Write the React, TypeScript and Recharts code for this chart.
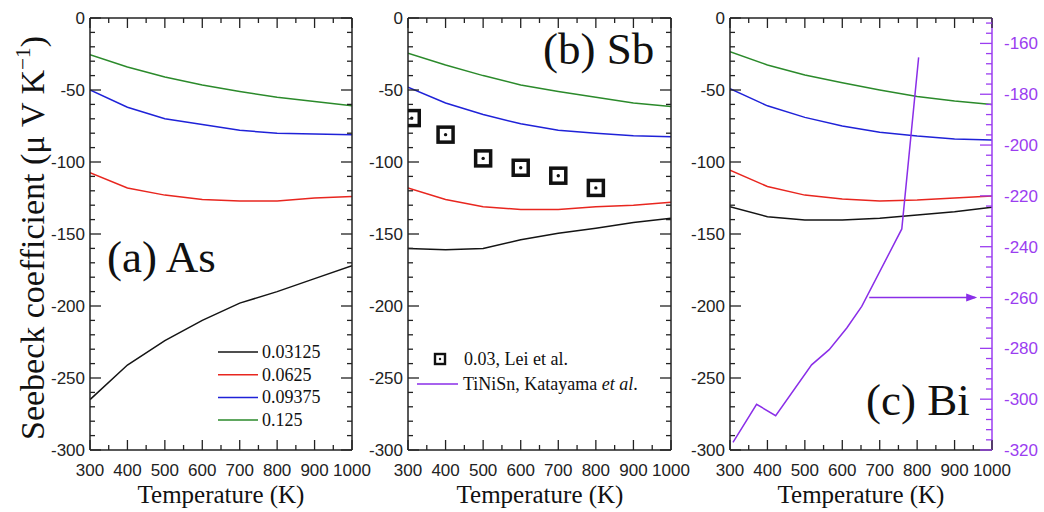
import React from 'react';
import { ComposedChart, Line, XAxis, YAxis } from 'recharts';

// temperatures for the calculated curves (K)
const temps = [300, 400, 500, 600, 700, 800, 900, 1000];
const concentrations = ['0.03125', '0.0625', '0.09375', '0.125'];
const lineColors = ['#141414', '#e8261f', '#1f22d8', '#2b8a2b'];

// (a) As
const as03125 = [-265, -241, -224, -210, -198, -190, -181, -172];
const as0625 = [-107.5, -118, -123, -126, -127, -127, -125, -124];
const as09375 = [-50, -62, -70, -74, -78, -80, -80.5, -81];
const as125 = [-25.5, -34, -41, -46.5, -51, -55, -58, -61];

// (b) Sb
const sb03125 = [-160, -161, -160, -154, -149.5, -146, -142, -139];
const sb0625 = [-118, -126, -131, -133, -133, -131, -130, -128];
const sb09375 = [-48, -59, -67, -73.5, -78, -80, -81.7, -82.5];
const sb125 = [-24.5, -32.6, -40, -46.5, -51, -55, -59, -61.5];

// (c) Bi
const bi03125 = [-131, -138, -140.3, -140.3, -139, -136.8, -134.5, -131.5];
const bi0625 = [-105.6, -117, -123, -125.7, -127, -126.4, -125, -123.6];
const bi09375 = [-49, -61, -69, -75, -79.4, -82, -84, -84.7];
const bi125 = [-23.4, -32.6, -39.6, -45, -50, -54.5, -57.6, -60];

// experiment, Lei et al. (x = 0.03)
const leiT = [310, 400, 500, 600, 700, 800];
const leiS = [-69.5, -81, -97.5, -104, -109.5, -118];

// TiNiSn, Katayama et al. (right axis)
const tinisnT = [308, 371, 422, 518, 565, 612, 652, 759, 804];
const tinisnS = [-317, -302, -306.5, -286.5, -280.5, -272, -263.5, -233, -165.5];

// arrow pointing to the right axis
const arrowT = [672, 955];
const arrowS = [-260, -260];

const xTicks = [300, 350, 400, 450, 500, 550, 600, 650, 700, 750, 800, 850, 900, 950, 1000];
const yTicks = Array.from({ length: 31 }, (_, i) => -300 + i * 10);
const rightTicks = Array.from({ length: 43 }, (_, i) => -320 + i * 4);

const AXIS = '#222';
const PURPLE_AXIS = '#9b3df0';
const PURPLE_LINE = '#8a2ee8';
const SANS = '"Liberation Sans", Arial, sans-serif';
const SERIF = '"Liberation Serif", "Times New Roman", Times, serif';
const serifStyle = { fontFamily: SERIF };

const makeRows = (cols: number[][]) =>
  temps.map((T, i) => ({ T, s0: cols[0][i], s1: cols[1][i], s2: cols[2][i], s3: cols[3][i] }));

const asRows = makeRows([as03125, as0625, as09375, as125]);
const sbRows = makeRows([sb03125, sb0625, sb09375, sb125]);
const biRows = makeRows([bi03125, bi0625, bi09375, bi125]);
const leiRows = leiT.map((T, i) => ({ T, v: leiS[i] }));
const tinisnRows = tinisnT.map((T, i) => ({ T, v: tinisnS[i] }));
const arrowRows = arrowT.map((T, i) => ({ T, v: arrowS[i] }));

const BottomTick = (p: any) => {
  const major = p.payload.value % 100 === 0;
  return (
    <g>
      <line x1={p.x} x2={p.x} y1={p.y} y2={p.y - (major ? 10 : 5)} stroke={AXIS} strokeWidth={1.3} />
      {major && (
        <text x={p.x} y={p.y + 26} textAnchor="middle" fontSize={17} style={{ fontFamily: SANS }} fill="#222">
          {p.payload.value}
        </text>
      )}
    </g>
  );
};

const TopTick = (p: any) => {
  const major = p.payload.value % 100 === 0;
  return <line x1={p.x} x2={p.x} y1={p.y} y2={p.y + (major ? 10 : 5)} stroke={AXIS} strokeWidth={1.3} />;
};

const LeftTick = (p: any) => {
  const major = p.payload.value % 50 === 0;
  return (
    <g>
      <line x1={p.x} x2={p.x + (major ? 11 : 5)} y1={p.y} y2={p.y} stroke={AXIS} strokeWidth={1.3} />
      {major && (
        <text x={p.x - 5} y={p.y + 6} textAnchor="end" fontSize={17} style={{ fontFamily: SANS }} fill="#222">
          {p.payload.value}
        </text>
      )}
    </g>
  );
};

const RightTick = (p: any) => {
  const major = p.payload.value % 50 === 0;
  return <line x1={p.x} x2={p.x - (major ? 11 : 5)} y1={p.y} y2={p.y} stroke={AXIS} strokeWidth={1.3} />;
};

const PurpleTick = (p: any) => {
  const major = p.payload.value % 20 === 0;
  return (
    <g>
      <line x1={p.x} x2={p.x - (major ? 12 : 6)} y1={p.y} y2={p.y} stroke={PURPLE_AXIS} strokeWidth={1.3} />
      {major && (
        <text x={p.x + 12} y={p.y + 6} textAnchor="start" fontSize={17} style={{ fontFamily: SANS }} fill={PURPLE_AXIS}>
          {p.payload.value}
        </text>
      )}
    </g>
  );
};

const SquareDot = (p: any) => (
  <g key={`sq-${p.index}`}>
    <rect x={p.cx - 7.5} y={p.cy - 7.5} width={15} height={15} fill="none" stroke="#111" strokeWidth={3.5} />
    <circle cx={p.cx} cy={p.cy} r={1.7} fill="#111" />
  </g>
);

const ArrowHead = (p: any) =>
  p.index === arrowT.length - 1 ? (
    <path key="head" d={`M${p.cx + 2} ${p.cy} l-11 -4 l0 8 z`} fill={PURPLE_LINE} />
  ) : (
    <g key={`a-${p.index}`} />
  );

interface PanelProps {
  left: number;
  width: number;
  ml: number;
  mr: number;
  rows: any[];
  purple?: boolean;
  lei?: boolean;
}

const Panel = ({ left, width, ml, mr, rows, purple, lei }: PanelProps) => (
  <div style={{ position: 'absolute', left, top: 0 }}>
    <ComposedChart width={width} height={512} margin={{ top: 17, bottom: 61, left: ml - 1, right: mr - 1 }}>
      <XAxis
        dataKey="T"
        type="number"
        domain={[300, 1000]}
        allowDataOverflow
        ticks={xTicks}
        interval={0}
        height={1}
        tickSize={0}
        tickMargin={0}
        tickLine={false}
        tick={BottomTick}
        axisLine={{ stroke: AXIS, strokeWidth: 1.5 }}
      />
      <XAxis
        xAxisId="top"
        orientation="top"
        dataKey="T"
        type="number"
        domain={[300, 1000]}
        allowDataOverflow
        ticks={xTicks}
        interval={0}
        height={1}
        tickSize={0}
        tickMargin={0}
        tickLine={false}
        tick={TopTick}
        axisLine={{ stroke: AXIS, strokeWidth: 1.5 }}
      />
      <YAxis
        type="number"
        domain={[-300, 0]}
        allowDataOverflow
        ticks={yTicks}
        interval={0}
        width={1}
        tickSize={0}
        tickMargin={0}
        tickLine={false}
        tick={LeftTick}
        axisLine={{ stroke: AXIS, strokeWidth: 1.5 }}
      />
      {purple ? (
        <YAxis
          yAxisId="right"
          orientation="right"
          type="number"
          domain={[-320, -150]}
          allowDataOverflow
          ticks={rightTicks}
          interval={0}
          width={1}
          tickSize={0}
          tickMargin={0}
          tickLine={false}
          tick={PurpleTick}
          axisLine={{ stroke: PURPLE_AXIS, strokeWidth: 1.5 }}
        />
      ) : (
        <YAxis
          yAxisId="right"
          orientation="right"
          type="number"
          domain={[-300, 0]}
          allowDataOverflow
          ticks={yTicks}
          interval={0}
          width={1}
          tickSize={0}
          tickMargin={0}
          tickLine={false}
          tick={RightTick}
          axisLine={{ stroke: AXIS, strokeWidth: 1.5 }}
        />
      )}
      {lineColors.map((c, i) => (
        <Line
          key={i}
          data={rows}
          dataKey={`s${i}`}
          stroke={c}
          strokeWidth={1.5}
          dot={false}
          activeDot={false}
          isAnimationActive={false}
        />
      ))}
      {lei && (
        <Line
          data={leiRows}
          dataKey="v"
          stroke="none"
          dot={SquareDot}
          activeDot={false}
          isAnimationActive={false}
        />
      )}
      {purple && (
        <Line
          yAxisId="right"
          data={tinisnRows}
          dataKey="v"
          stroke={PURPLE_LINE}
          strokeWidth={1.5}
          dot={false}
          activeDot={false}
          isAnimationActive={false}
        />
      )}
      {purple && (
        <Line
          yAxisId="right"
          data={arrowRows}
          dataKey="v"
          stroke={PURPLE_LINE}
          strokeWidth={1.5}
          dot={ArrowHead}
          activeDot={false}
          isAnimationActive={false}
        />
      )}
    </ComposedChart>
  </div>
);

// big serif labels: drawn at 20px and scaled up
const BigLabel = ({ x, y, text }: { x: number; y: number; text: string }) => (
  <text transform={`translate(${x},${y}) scale(2.25)`} fontSize={20} style={serifStyle} fill="#111">
    {text}
  </text>
);

const Overlay = () => (
  <svg width={1044} height={512} style={{ position: 'absolute', left: 0, top: 0, pointerEvents: 'none' }}>
    <text
      transform="translate(44,238) rotate(-90) scale(1.7)"
      textAnchor="middle"
      fontSize={20}
      style={serifStyle}
      fill="#111"
    >
      Seebeck coefficient (μ V K
      <tspan fontSize={12.5} dy={-8}>−1</tspan>
      <tspan dy={8}>)</tspan>
    </text>
    {[221, 540, 861].map((cx, i) => (
      <text key={i} x={cx} y={503} textAnchor="middle" fontSize={25} style={serifStyle} fill="#111">
        Temperature (K)
      </text>
    ))}
    <BigLabel x={107} y={272} text="(a) As" />
    <BigLabel x={543} y={64} text="(b) Sb" />
    <BigLabel x={866} y={415} text="(c) Bi" />
    {concentrations.map((label, i) => (
      <g key={label}>
        <line x1={218} x2={258} y1={352 + i * 22.7} y2={352 + i * 22.7} stroke={lineColors[i]} strokeWidth={1.5} />
        <text x={262} y={358 + i * 22.7} fontSize={18} style={serifStyle} fill="#111">{label}</text>
      </g>
    ))}
    <rect x={435} y={354} width={10} height={10} fill="none" stroke="#111" strokeWidth={2.4} />
    <circle cx={440} cy={359} r={1.2} fill="#111" />
    <text x={464} y={365} fontSize={18} style={serifStyle} fill="#111">0.03, Lei et al.</text>
    <line x1={417} x2={458} y1={384} y2={384} stroke={PURPLE_LINE} strokeWidth={1.5} />
    <text x={463} y={390} fontSize={18} style={serifStyle} fill="#111">
      TiNiSn, Katayama <tspan fontStyle="italic">et al</tspan>.
    </text>
  </svg>
);

export default function App() {
  return (
    <div style={{ position: 'absolute', left: 0, top: 0, width: 1044, height: 512, background: '#fff' }}>
      <style>{'svg.recharts-surface{overflow:visible}'}</style>
      <Panel left={0} width={360} ml={90} mr={8} rows={asRows} />
      <Panel left={360} width={320} ml={48} mr={9} rows={sbRows} lei />
      <Panel left={680} width={364} ml={50} mr={52} rows={biRows} purple />
      <Overlay />
    </div>
  );
}
